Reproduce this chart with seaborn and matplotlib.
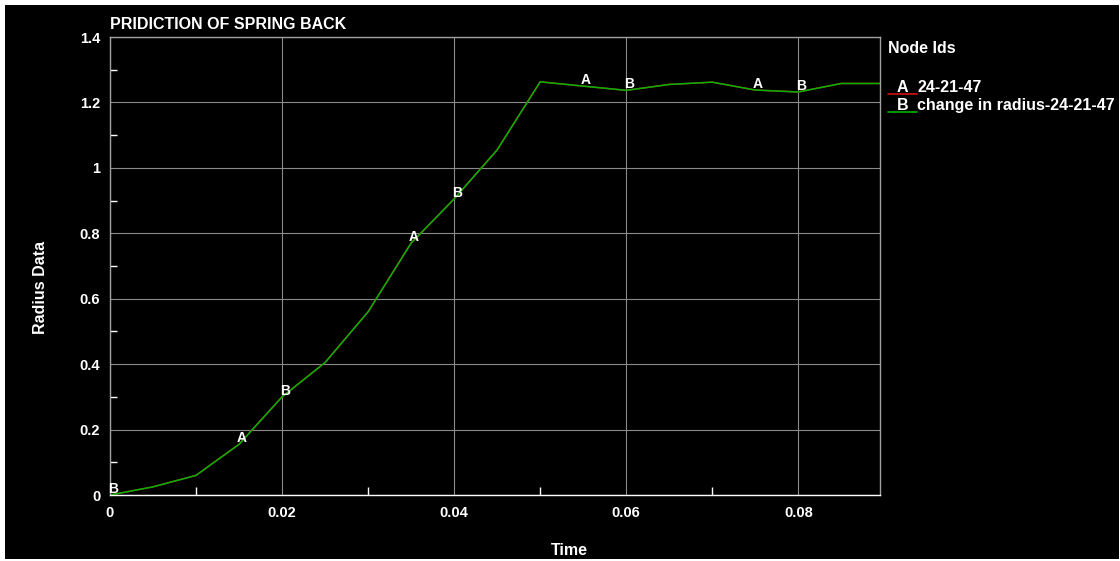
import pandas as pd
import matplotlib.pyplot as plt
import seaborn as sns
from matplotlib.lines import Line2D
from matplotlib.patches import Rectangle

sns.set_style("dark")
plt.rcParams['font.family'] = ['Liberation Sans', 'DejaVu Sans']
plt.rcParams['font.weight'] = 'bold'

time = [0.0, 0.005, 0.01, 0.015, 0.02, 0.025, 0.03, 0.035, 0.04, 0.045,
        0.05, 0.055, 0.06, 0.065, 0.07, 0.075, 0.08, 0.085, 0.09]
radius = [0.0, 0.025, 0.06, 0.155, 0.30, 0.405, 0.56, 0.77, 0.905, 1.055,
          1.263, 1.25, 1.237, 1.255, 1.262, 1.238, 1.232, 1.258, 1.258]
series = ['A', 'B']
series_names = ['24-21-47', 'change in radius-24-21-47']
series_colors = {'A': '#d01010', 'B': '#00b400'}
label_a_idx = [3, 7, 11, 15]
label_b_idx = [0, 4, 8, 12, 16]

df = pd.concat([pd.DataFrame({'Time': time, 'Radius': radius, 'series': s}) for s in series])

fig = plt.figure(figsize=(11.2, 5.61), dpi=100)
fig.patch.set_facecolor('white')
fig.patches.append(Rectangle((5 / 1120, 2 / 561), 1114 / 1120, 554 / 561,
                             transform=fig.transFigure, facecolor='black',
                             edgecolor='none', zorder=-10))
ax = fig.add_axes([0.0982, 0.1176, 0.6875, 0.8164])
ax.set_facecolor('black')

sns.lineplot(data=df, x='Time', y='Radius', hue='series', palette=series_colors,
             legend=False, linewidth=1.1, ax=ax)

for lab, idx in (('A', label_a_idx), ('B', label_b_idx)):
    for i in idx:
        ax.annotate(lab, (time[i], radius[i]), xytext=(2, 1.5), textcoords='offset points',
                    ha='center', va='baseline', color='white', fontsize=10, fontweight='bold')

ax.set_xlim(0, 0.0895)
ax.set_ylim(0, 1.4)
xt = [0, 0.02, 0.04, 0.06, 0.08]
ax.set_xticks(xt)
ax.set_xticklabels(['0', '0.02', '0.04', '0.06', '0.08'])
ax.set_xticks([0.01, 0.03, 0.05, 0.07], minor=True)
yt = [0, 0.2, 0.4, 0.6, 0.8, 1.0, 1.2, 1.4]
ax.set_yticks(yt)
ax.set_yticklabels(['0', '0.2', '0.4', '0.6', '0.8', '1', '1.2', '1.4'])
ax.set_yticks([0.1, 0.3, 0.5, 0.7, 0.9, 1.1, 1.3], minor=True)

ax.grid(True, which='major', color='#8a8a8a', linewidth=0.8)
ax.tick_params(axis='x', which='major', direction='in', length=6, color='white', width=1,
               labelcolor='white', labelsize=10.5, pad=8)
ax.tick_params(axis='x', which='minor', direction='in', length=6, color='white', width=1, bottom=True)
ax.tick_params(axis='y', which='major', direction='inout', length=10, color='white', width=1,
               labelcolor='white', labelsize=10.5, pad=2)
ax.tick_params(axis='y', which='minor', direction='in', length=5, color='white', width=1, left=True)
for t in ax.get_xticklabels() + ax.get_yticklabels():
    t.set_fontweight('bold')

for side in ['top', 'right', 'left']:
    ax.spines[side].set_color('#a0a0a0')
    ax.spines[side].set_linewidth(1)
ax.spines['bottom'].set_color('white')
ax.spines['bottom'].set_linewidth(1)

ax.set_xlabel('Time', color='white', fontsize=11.5, fontweight='bold')
ax.xaxis.set_label_coords(0.597, -0.105)
ax.set_ylabel('Radius Data', color='white', fontsize=11.5, fontweight='bold')
ax.yaxis.set_label_coords(-0.080, 0.454)
ax.set_title('PRIDICTION OF SPRING BACK', loc='left', color='white', fontsize=11.5,
             fontweight='bold', pad=6)

# legend block on the right
fig.text(0.7929, 0.9127, 'Node Ids', color='white', fontsize=11.5, fontweight='bold', va='center')
for k, s in enumerate(series):
    y = 0.8449 - k * 0.0321
    fig.text(0.8009, y, s, color='white', fontsize=11.5, fontweight='bold', va='center')
    fig.text(0.8188, y, series_names[k], color='white', fontsize=11.5, fontweight='bold',
             va='center')
    fig.add_artist(Line2D([0.7929, 0.8188], [y - 0.0116, y - 0.0116], color=series_colors[s],
                          linewidth=1.2, transform=fig.transFigure))

fig.savefig('out.png', dpi=100, facecolor=fig.get_facecolor())
